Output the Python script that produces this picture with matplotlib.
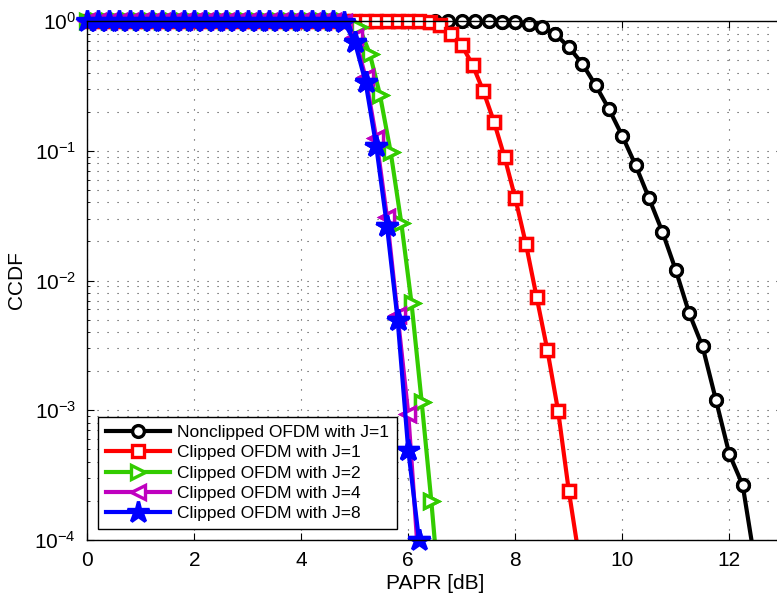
import numpy as np
import matplotlib
matplotlib.use("Agg")
import matplotlib.pyplot as plt
from matplotlib.ticker import LogLocator, MultipleLocator, NullFormatter

plt.rcParams['font.family'] = ['Liberation Sans', 'DejaVu Sans']
plt.rcParams['mathtext.fontset'] = 'custom'
plt.rcParams['mathtext.rm'] = 'Liberation Sans'
plt.rcParams['mathtext.it'] = 'Liberation Sans:italic'
plt.rcParams['mathtext.bf'] = 'Liberation Sans:bold'

# PAPR grid and CCDF values
nonclipped_x = [0, 0.25, 0.5, 0.75, 1, 1.25, 1.5, 1.75, 2, 2.25, 2.5, 2.75,
                3, 3.25, 3.5, 3.75, 4, 4.25, 4.5, 4.75, 5, 5.25, 5.5, 5.75,
                6, 6.25, 6.5, 6.75, 7, 7.25, 7.5, 7.75, 8, 8.25, 8.5, 8.75,
                9, 9.25, 9.5, 9.75, 10, 10.25, 10.5, 10.75, 11, 11.25, 11.5,
                11.75, 12, 12.25, 12.5]
nonclipped_y = [1, 1, 1, 1, 1, 1, 1, 1, 1, 1, 1, 1,
                1, 1, 1, 1, 1, 1, 1, 1, 1, 1, 1, 1,
                1, 1, 1, 1, 1, 1, 1, 0.99, 0.98, 0.95, 0.90, 0.79,
                0.63, 0.47, 0.32, 0.21, 0.13, 0.077, 0.043, 0.0237, 0.012,
                0.0056, 0.0031, 0.0012, 4.6e-4, 2.65e-4, 6e-5]

j1_x = [0, 0.2, 0.4, 0.6, 0.8, 1, 1.2, 1.4, 1.6, 1.8, 2, 2.2, 2.4, 2.6, 2.8,
        3, 3.2, 3.4, 3.6, 3.8, 4, 4.2, 4.4, 4.6, 4.8, 5, 5.2, 5.4, 5.6, 5.8,
        6, 6.2, 6.4, 6.6, 6.8, 7, 7.2, 7.4, 7.6, 7.8, 8, 8.2, 8.4, 8.6, 8.8,
        9, 9.2]
j1_y = [1, 1, 1, 1, 1, 1, 1, 1, 1, 1, 1, 1, 1, 1, 1,
        1, 1, 1, 1, 1, 1, 1, 1, 1, 1, 1, 1, 1, 1, 1,
        1, 1, 0.98, 0.93, 0.80, 0.65, 0.46, 0.29, 0.168, 0.089, 0.043, 0.019,
        0.0074, 0.0029, 9.9e-4, 2.4e-4, 7e-5]

j2_x = [0, 0.2, 0.4, 0.6, 0.8, 1, 1.2, 1.4, 1.6, 1.8, 2, 2.2, 2.4, 2.6, 2.8,
        3, 3.2, 3.4, 3.6, 3.8, 4, 4.2, 4.4, 4.6, 4.8, 5.08, 5.28, 5.47,
        5.67, 5.87, 6.06, 6.25, 6.43, 6.62]
j2_y = [1, 1, 1, 1, 1, 1, 1, 1, 1, 1, 1, 1, 1, 1, 1,
        1, 1, 1, 1, 1, 1, 1, 1, 1, 1, 0.9, 0.56, 0.27,
        0.098, 0.0276, 0.0067, 0.00116, 2.0e-4, 2.5e-5]

j4_x = [0, 0.2, 0.4, 0.6, 0.8, 1, 1.2, 1.4, 1.6, 1.8, 2, 2.2, 2.4, 2.6, 2.8,
        3, 3.2, 3.4, 3.6, 3.8, 4, 4.2, 4.4, 4.6, 4.8, 5, 5.2, 5.4, 5.6, 5.8,
        6, 6.2]
j4_y = [1, 1, 1, 1, 1, 1, 1, 1, 1, 1, 1, 1, 1, 1, 1,
        1, 1, 1, 1, 1, 1, 1, 1, 1, 0.99, 0.75, 0.37, 0.125, 0.031, 0.0054,
        9.3e-4, 6e-5]

j8_x = [0, 0.2, 0.4, 0.6, 0.8, 1, 1.2, 1.4, 1.6, 1.8, 2, 2.2, 2.4, 2.6, 2.8,
        3, 3.2, 3.4, 3.6, 3.8, 4, 4.2, 4.4, 4.6, 4.8, 5, 5.2, 5.4, 5.6, 5.8,
        6, 6.2]
j8_y = [1, 1, 1, 1, 1, 1, 1, 1, 1, 1, 1, 1, 1, 1, 1,
        1, 1, 1, 1, 1, 1, 1, 1, 1, 0.98, 0.69, 0.34, 0.109, 0.0265, 0.0050,
        4.9e-4, 1.0e-4]

labels = ["Nonclipped OFDM with J=1", "Clipped OFDM with J=1",
          "Clipped OFDM with J=2", "Clipped OFDM with J=4",
          "Clipped OFDM with J=8"]

series = [
    (nonclipped_x, nonclipped_y, 'black', 'o', 8.5, 'white'),
    (j1_x, j1_y, '#ff0000', 's', 8, 'white'),
    (j2_x, j2_y, '#33cc00', '>', 10, 'white'),
    (j4_x, j4_y, '#bf00bf', '<', 10, 'white'),
    (j8_x, j8_y, '#0000ff', '*', 16, '#0000ff'),
]

fig = plt.figure(figsize=(7.77, 5.99), dpi=100)
ax = fig.add_axes([87.3 / 777, 1 - 540 / 599, (782.8 - 87.3) / 777, 519 / 599])

for (x, y, color, marker, ms, mfc), label in zip(series, labels):
    x = np.asarray(x)
    y = np.asarray(y)
    ax.semilogy(x, y, color=color, lw=3, marker=marker, ms=ms, mfc=mfc,
                mec=color, mew=2.4, label=label)
    # markers on the border are not cut off, like in the original
    inside = y >= 1e-4
    ax.semilogy(x[inside], y[inside], ls='none', marker=marker, ms=ms,
                mfc=mfc, mec=color, mew=2.4, clip_on=False)

ax.set_xlim(0, 13)
ax.set_ylim(1e-4, 1)
ax.xaxis.set_major_locator(MultipleLocator(2))
ax.yaxis.set_major_locator(LogLocator(base=10, numticks=10))
ax.yaxis.set_minor_locator(LogLocator(base=10, subs=np.arange(2, 10), numticks=10))
ax.yaxis.set_minor_formatter(NullFormatter())

ax.grid(True, which='major', axis='both', color='0.25', lw=0.8, ls=(0, (1, 8)))
ax.grid(True, which='minor', axis='y', color='0.25', lw=0.8, ls=(0, (1, 8)))
ax.set_axisbelow(True)

ax.tick_params(which='both', direction='in', top=True, right=True,
               labelsize=15, pad=8)
ax.tick_params(which='major', length=5)
ax.tick_params(which='minor', length=2.5)
for s in ax.spines.values():
    s.set_linewidth(1.0)

ax.set_xlabel("PAPR [dB]", fontsize=15, labelpad=3)
ax.set_ylabel("CCDF", fontsize=15, labelpad=6)

leg = ax.legend(loc='lower left', bbox_to_anchor=(0.0154, 0.0206),
                borderaxespad=0, fontsize=12.5, handlelength=3.7,
                handletextpad=0.4, labelspacing=0.3, borderpad=0.45,
                fancybox=False, framealpha=1, edgecolor='black')
leg.get_frame().set_linewidth(1.0)

fig.savefig("out.png", dpi=100)
